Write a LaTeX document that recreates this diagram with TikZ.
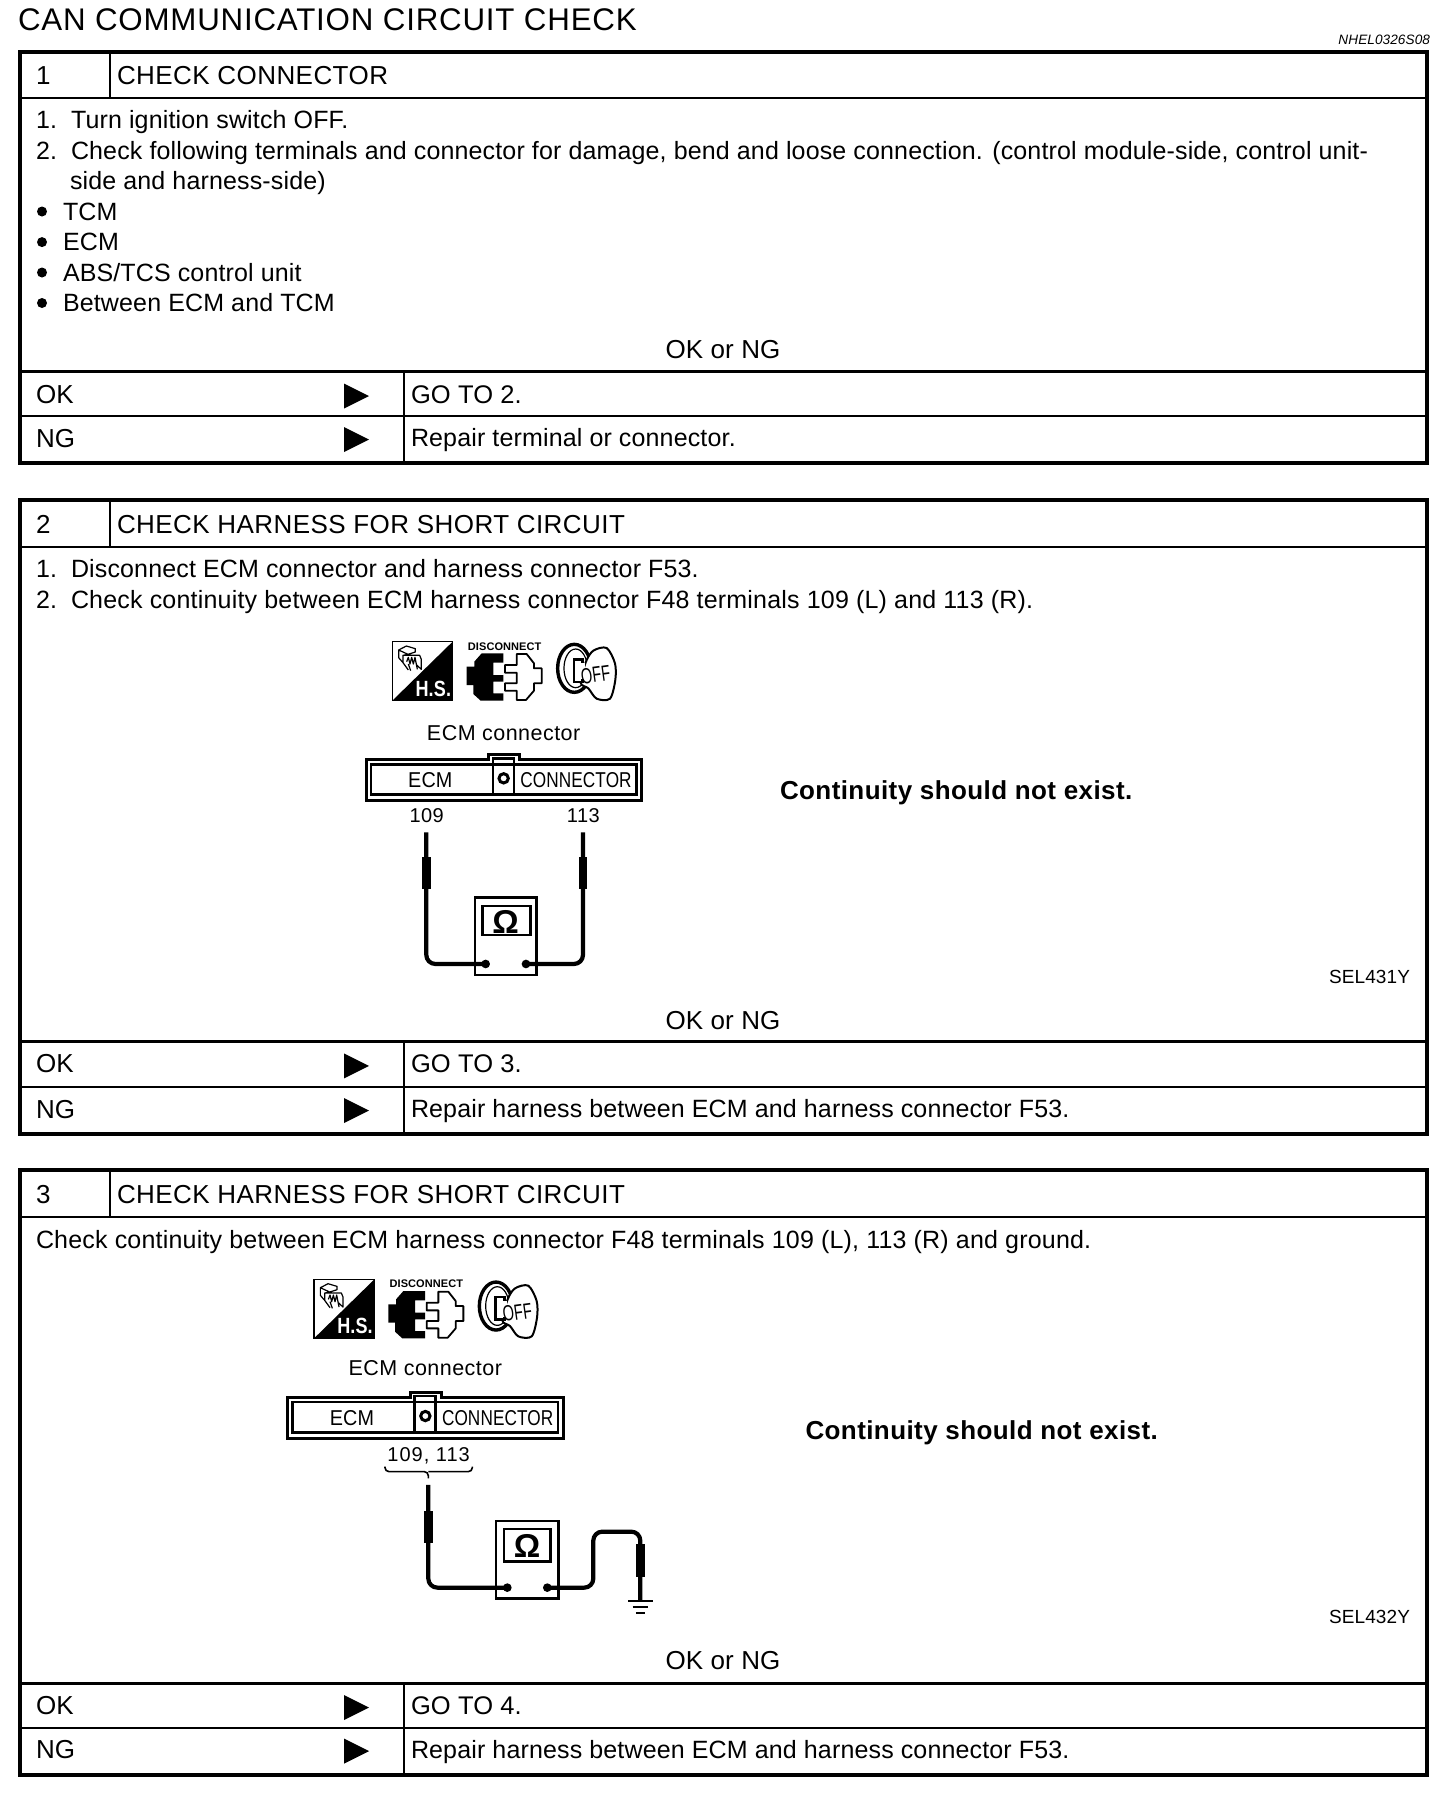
\documentclass[tikz,border=0pt]{standalone}
\usepackage{fontspec}
\setmainfont[LetterSpace=0.6]{Liberation Sans}
\newfontfamily\headfam[LetterSpace=1.7]{Liberation Sans}
\newfontfamily\titlefam[LetterSpace=2.5]{Liberation Sans}
\newfontfamily\contfam[LetterSpace=1.6]{Liberation Sans}
\newfontfamily\numfam[LetterSpace=5]{Liberation Sans}
\newfontfamily\capfam[LetterSpace=2.2]{Liberation Sans}
\newfontfamily\widefam[LetterSpace=0.8]{Liberation Sans}
\usetikzlibrary{calc}
\newcommand{\fs}[1]{\fontsize{#1}{#1}\selectfont}
\newcommand{\tl}[5]{\node[txt,anchor=base west] (#1) at (#2,#3) {\fs{#4}#5};}
\newcommand{\tc}[5]{\node[txt,anchor=base] (#1) at (#2,#3) {\fs{#4}#5};}
\newcommand{\tr}[5]{\node[txt,anchor=base east] (#1) at (#2,#3) {\fs{#4}#5};}
\newcommand{\stepbox}[9]{%
  \draw[frame] (20,#4) rectangle (1427,#8);
  \draw[thin1] (20,#5) -- (1427,#5);
  \draw[thin1] (109.5,#4) -- (109.5,#5);
  \draw[thick1] (20,#6) -- (1427,#6);
  \draw[thin1] (20,#7) -- (1427,#7);
  \draw[thin1] (403.5,#6) -- (403.5,#8);
  \tl{#1num}{36}{#4+33}{26}{#2}
  \tl{#1title}{117}{#4+33}{26}{\headfam #3}
  \tl{#1ok}{36}{#6+31.5}{26}{OK}
  \tl{#1ng}{36}{#7+31}{26}{NG}
  \fill (344,#6+12) -- (369,#6+24.5) -- (344,#6+37) -- cycle;
  \fill (344,#7+11) -- (369,#7+23.5) -- (344,#7+36) -- cycle;
  \tl{#1go}{411}{#6+31.5}{25.5}{GO TO #9.}
}
\newcommand{\icons}[1]{%
  \draw[line width=1.5pt,fill=white] (157,65) rectangle (338,242);
  \fill (157,242) -- (338,65) -- (338,242) -- cycle;
  \node[txt,white] (#1hs) at (280,206) {\fs{22}\scalebox{0.82}[1]{\bfseries H.S.}};
  \draw[line width=1.2pt,line join=round] (176,90) -- (199,78) -- (226,86) -- (226,96) -- (204,103) -- cycle
     (176,90) -- (176,113) -- (189,128) -- (189,106) -- (204,103)
     (189,106) -- (239,106) -- (244,118) -- (244,148) -- (230,135)
     (189,128) -- (205,150)
     (200,125) -- (205,112) -- (210,132) -- (215,112) -- (220,132) -- (225,112) -- (232,148)
     (205,132) -- (212,152);
  \node[txt] (#1dc) at (494,79) {\fs{11}\bfseries DISCONNECT};
  \fill (490,100) -- (425,100) -- (403,125) -- (403,140) -- (380,140) -- (380,195) -- (400,195) -- (400,222) -- (422,242) -- (490,242) -- (490,220) -- (460,220) -- (460,185) -- (490,185) -- (490,165) -- (460,165) -- (460,128) -- (490,128) -- cycle;
  \draw[line width=1.8pt,line join=round,fill=white] (530,102) -- (560,102) -- (582,130) -- (582,145) -- (605,145) -- (605,190) -- (582,190) -- (582,212) -- (558,240) -- (530,240) -- (530,212) -- (495,212) -- (495,190) -- (530,190) -- (530,158) -- (495,158) -- (495,135) -- (530,135) -- cycle;
  \draw[line width=3.4pt] (703,145) ellipse [x radius=50,y radius=72];
  \draw[line width=1.2pt] (707,145) ellipse [x radius=35,y radius=58];
  \draw[line width=2pt,fill=white] plot[smooth cycle] coordinates {(738,125) (760,92) (800,84) (825,130) (826,180) (810,236) (770,236) (745,205) (722,188)};
  \draw[line width=2.6pt,fill=white] (702,118) rectangle (728,186);
  \fill[white] (722,130) rectangle (735,178);
  \node[txt,rotate=8] (#1off) at (767,164) {\fs{22}\scalebox{0.66}[1]{OFF}};
}
\newcommand{\conn}[2]{%
  \tc{#1cap}{491}{#2}{21.5}{\capfam ECM connector}
  \draw[line width=3pt,fill=white] (78,418) -- (446,418) -- (446,405) -- (540,405) -- (540,418) -- (905,418) -- (905,542) -- (78,542) -- cycle;
  \draw[line width=2.6pt] (93,433) rectangle (889,524);
  \draw[line width=2.6pt] (459,415) rectangle (522,524);
  \draw[line width=3pt] (491,475) circle (14);
  \tc{#1ecm}{271}{504}{21.5}{\scalebox{0.92}[1]{ECM}}
  \tc{#1con}{708}{504}{21.5}{\scalebox{0.8}[1]{CONNECTOR}}
}
\tikzset{
  txt/.style={inner sep=0pt,outer sep=0pt,text=black},
  frame/.style={line width=4pt,line join=miter},
  thin1/.style={line width=2pt},
  thick1/.style={line width=3pt},
  wire/.style={line width=4.2pt,rounded corners=9pt,line join=round},
  sleeve/.style={fill=black},
  meter/.style={line width=2.6pt,fill=white},
}
\begin{document}
\begin{tikzpicture}[x=1pt,y=-1pt]
\useasboundingbox (0,0) rectangle (1456,1796);
\fill[white] (0,0) rectangle (1456,1796);
\tl{title}{18}{30.5}{31.3}{\titlefam CAN COMMUNICATION CIRCUIT CHECK}
\tr{code}{1430}{44}{13.6}{\itshape NHEL0326S08}
% --- box 1
\stepbox{a}{1}{CHECK CONNECTOR}{51.7}{97.5}{371.5}{416}{462.5}{2}
\tc{aor}{723}{358}{26}{OK or NG}
\tl{a1n}{36}{128.5}{25}{1.}\tl{a1t}{71}{128.5}{25}{Turn ignition switch OFF.}
\tl{a2n}{36}{159}{25}{2.}\tl{a2t}{71}{159}{25}{Check following terminals and connector for damage, bend and loose connection. (control module-side, control unit-}
\tl{a3t}{70}{189.5}{25}{side and harness-side)}
\foreach \n/\y/\s in {b1/220/TCM,b2/250.6/ECM,b3/281/ABS\slash TCS control unit,b4/311.5/Between ECM and TCM}{
  \fill (42,\y-8.5) circle (5);
  \tl{\n}{63}{\y}{25}{\s}
}
\tl{ang}{411}{446.5}{25}{Repair terminal or connector.}
% --- box 2
\stepbox{b}{2}{CHECK HARNESS FOR SHORT CIRCUIT}{500}{546.5}{1041.4}{1087}{1133.5}{3}
\tc{bor}{723}{1029}{26}{OK or NG}
\tl{b1n}{36}{577.5}{25}{1.}\tl{b1t}{71}{577.5}{25}{Disconnect ECM connector and harness connector F53.}
\tl{b2n}{36}{608}{25}{2.}\tl{b2t}{71}{608}{25}{\widefam Check continuity between ECM harness connector F48 terminals 109 (L) and 113 (R).}
\tl{bcn}{780}{799}{26}{\contfam\bfseries Continuity should not exist.}
\tr{bsel}{1410}{983}{19}{SEL431Y}
\tl{bng}{411}{1117}{25}{Repair harness between ECM and harness connector F53.}
\begin{scope}[shift={(340,620)},x=0.3333pt,y=-0.3333pt]
  \icons{bi}
  \conn{bi}{362}
  \tc{bt1}{260}{608}{20}{\capfam 109}
  \tc{bt2}{730}{608}{20}{\capfam 113}
  \draw[meter] (405,833) rectangle (590,1065);
  \draw[line width=2.6pt] (428,858) rectangle (572,945);
  \node[txt] (bom) at (497,905) {\fs{33}\bfseries Ω};
  \fill (437,1032) circle (13) coordinate (bd1);
  \fill (558,1032) circle (13) coordinate (bd2);
  \coordinate (bp1) at (259,637);
  \coordinate (bp2) at (729,637);
  \draw[wire] (bp1) |- (bd1);
  \draw[wire] (bp2) |- (bd2);
  \fill[sleeve] (246,712) rectangle (272,808);
  \fill[sleeve] (716,712) rectangle (742,808);
\end{scope}
% --- box 3
\stepbox{c}{3}{CHECK HARNESS FOR SHORT CIRCUIT}{1170}{1217}{1683}{1727.6}{1774.5}{4}
\tc{cor}{723}{1669.5}{26}{OK or NG}
\tl{c1t}{36}{1248}{25}{\widefam Check continuity between ECM harness connector F48 terminals 109 (L), 113 (R) and ground.}
\tl{ccn}{805.5}{1439}{26}{\contfam\bfseries Continuity should not exist.}
\tr{csel}{1410}{1623}{19}{SEL432Y}
\tl{cng}{411}{1758}{25}{Repair harness between ECM and harness connector F53.}
\begin{scope}[shift={(261.7,1257.7)},x=0.3333pt,y=-0.3333pt]
  \icons{ci}
  \conn{ci}{352}
\end{scope}
\begin{scope}[shift={(270,1260)},x=0.3333pt,y=-0.3333pt]
  \tc{ct}{476}{604}{20}{\numfam 109, 113}
  \draw[line width=1.6pt,rounded corners=4pt] (345,620) -- (345,635) -- (475,635) -- (475,655);
  \draw[line width=1.6pt,rounded corners=4pt] (607,620) -- (607,635) -- (475,635);
  \draw[meter] (678,783) rectangle (865,1015);
  \draw[line width=2.6pt] (702,807) rectangle (842,905);
  \node[txt] (com) at (771,857) {\fs{33}\bfseries Ω};
  \fill (712,983) circle (13) coordinate (cd1);
  \fill (832,983) circle (13) coordinate (cd2);
  \coordinate (cp1) at (475,675);
  \coordinate (cg) at (1111,1022);
  \draw[wire] (cp1) |- (cd1);
  \draw[wire] (cd2) -- (970,983) -- (970,815) -- (1111,815) -- (cg);
  \fill[sleeve] (462,752) rectangle (488,850);
  \fill[sleeve] (1098,852) rectangle (1124,950);
  \draw[line width=2pt] (1075,1023) -- (1148,1023);
  \draw[line width=2pt] (1088,1041) -- (1135,1041);
  \draw[line width=2pt] (1098,1059) -- (1125,1059);
\end{scope}
\end{tikzpicture}
\end{document}
